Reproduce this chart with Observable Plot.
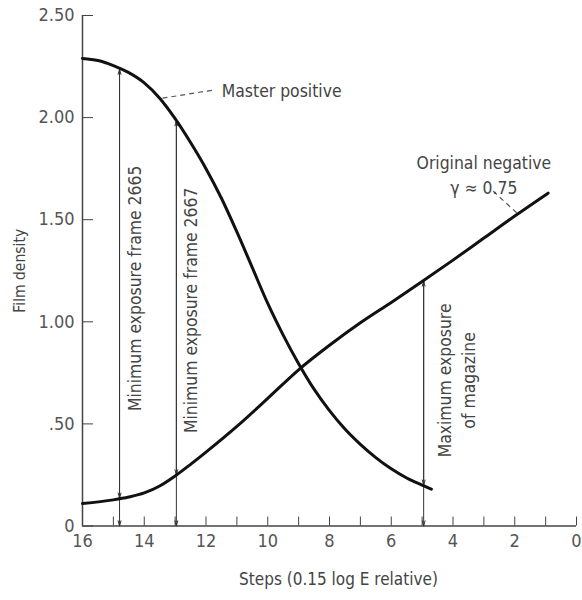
<!DOCTYPE html>
<html><head><meta charset="utf-8">
<script src="https://cdn.jsdelivr.net/npm/d3@7"></script>
<script src="https://cdn.jsdelivr.net/npm/@observablehq/plot@0.6"></script>
<style>
body{margin:0;background:#fff;}
svg{font-family:"DejaVu Sans Condensed","Liberation Sans Narrow","Roboto Condensed","DejaVu Sans",sans-serif;font-stretch:condensed;}
</style></head><body><div id="chart"></div>
<script>
// Master positive curve
const masterX = [16, 15.5, 15, 14.5, 14, 13.5, 13, 12.5, 12, 11.5, 11, 10.5, 10, 9.5, 9, 8.5, 8, 7.5, 7, 6.5, 6, 5.5, 5, 4.7];
const masterY = [2.29, 2.28, 2.255, 2.22, 2.17, 2.095, 1.995, 1.878, 1.75, 1.605, 1.44, 1.265, 1.09, 0.935, 0.795, 0.67, 0.565, 0.475, 0.40, 0.335, 0.28, 0.235, 0.20, 0.18];
// Original negative curve
const negX = [16, 15, 14.5, 14, 13.5, 13, 12.5, 12, 11, 10, 9, 8, 7, 6, 5, 4, 3, 2, 0.92];
const negY = [0.11, 0.128, 0.142, 0.162, 0.196, 0.245, 0.302, 0.362, 0.488, 0.625, 0.765, 0.885, 0.995, 1.095, 1.197, 1.302, 1.41, 1.518, 1.63];
// Exposure arrows
const arrowX = [14.8, 12.96, 4.95];
const arrowLow = [0.136, 0.25, 0.20];
const arrowHigh = [2.237, 1.985, 1.2];
// Ticks
const yTicks = [0, 0.5, 1, 1.5, 2, 2.5];
const yTickLabels = ["0", ".50", "1.00", "1.50", "2.00", "2.50"];
const xTicks = [16, 14, 12, 10, 8, 6, 4, 2, 0];
const xMinorTicks = [16, 15, 14, 13, 12, 11, 10, 9, 8, 7, 6, 5, 4, 3, 2, 1, 0];
// Texts
const xLabel = "Steps (0.15 log E relative)";
const yLabel = "Film density";
const notes = [
  {x: 14.35, y: 1.164, text: "Minimum exposure frame 2665", rotate: -90},
  {x: 12.53, y: 1.056, text: "Minimum exposure frame 2667", rotate: -90},
  {x: 3.92, y: 0.713, text: "Maximum exposure\nof magazine", rotate: -90},
  {x: 9.55, y: 2.14, text: "Master positive", rotate: 0},
  {x: 3.0, y: 1.725, text: "Original negative\nγ ≈ 0.75", rotate: 0}
];
const leaders = [
  {x1: 13.41, y1: 2.095, x2: 11.76, y2: 2.135},
  {x1: 2.7, y1: 1.64, x2: 1.91, y2: 1.53}
];

const master = masterX.map((x, i) => ({x, y: masterY[i]}));
const neg = negX.map((x, i) => ({x, y: negY[i]}));
const arrows = arrowX.map((x, i) => ({x, lo: arrowLow[i], hi: arrowHigh[i]}));

const ink = "#444";
const chart = Plot.plot({
  width: 582, height: 600,
  marginLeft: 82, marginRight: 6, marginTop: 15, marginBottom: 74.5,
  x: {domain: [16, 0]},
  y: {domain: [0, 2.5]},
  style: {fontSize: "18px", color: ink, background: "#fff"},
  marks: [
    Plot.axisY({ticks: yTicks, tickFormat: (d) => yTickLabels[yTicks.indexOf(d)], tickSize: 0, tickPadding: 8, fontSize: 18, label: null, fill: "#555"}),
    Plot.axisY({ticks: yTicks, tickFormat: () => "", tickSize: -11, label: null, stroke: ink}),
    Plot.axisX({ticks: xTicks, tickFormat: d => String(d), tickSize: 0, tickPadding: 8, fontSize: 18, label: null, fill: "#555"}),
    Plot.axisX({ticks: xMinorTicks, tickFormat: () => "", tickSize: -9, label: null, stroke: ink}),
    Plot.ruleY([0], {stroke: ink, strokeWidth: 1.5}),
    Plot.ruleX([16], {y1: 0, y2: 2.5, stroke: ink, strokeWidth: 1.5}),
    Plot.text([xLabel], {frameAnchor: "bottom", dy: 59, dx: 9, fontSize: 17, fill: "#444"}),
    Plot.text([yLabel], {frameAnchor: "left", textAnchor: "middle", dx: -62, rotate: -90, fontSize: 15.5, fill: "#444"}),
    Plot.arrow(arrows, {x1: "x", x2: "x", y1: "lo", y2: "hi", stroke: "#333", strokeWidth: 1, headLength: 8, headAngle: 30}),
    Plot.arrow(arrows, {x1: "x", x2: "x", y1: "hi", y2: "lo", stroke: "#333", strokeWidth: 1, headLength: 8, headAngle: 30}),
    Plot.arrow(arrows, {x1: "x", x2: "x", y1: "lo", y2: () => 0, stroke: "#333", strokeWidth: 1, headLength: 8, headAngle: 30}),
    Plot.line(master, {x: "x", y: "y", curve: "monotone-x", stroke: "#111", strokeWidth: 3}),
    Plot.line(neg, {x: "x", y: "y", curve: "monotone-x", stroke: "#111", strokeWidth: 3}),
    Plot.link(leaders, {x1: "x1", y1: "y1", x2: "x2", y2: "y2", stroke: "#555", strokeWidth: 1.2, strokeDasharray: "5,4"}),
    Plot.text(notes, {x: "x", y: "y", text: "text", rotate: "rotate", fontSize: 17.4, fill: "#444", lineHeight: 1.4})
  ]
});
document.getElementById("chart").append(chart);
</script></body></html>
